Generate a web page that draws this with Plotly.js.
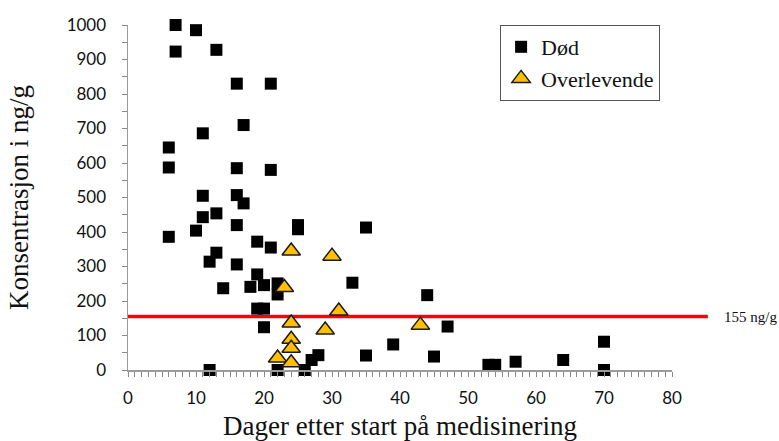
<!DOCTYPE html>
<html>
<head>
<meta charset="utf-8">
<script src="https://cdn.plot.ly/plotly-3.0.1.min.js"></script>
<style>html,body{margin:0;padding:0;background:#fff;}#chart{width:779px;height:441px;}</style>
</head>
<body>
<div id="chart"></div>
<script>
// Død (died) – days after start, concentration ng/g
const dodDays = [7,10,7,13,16,21,17,11,6,6,16,21,11,16,17,13,11,25,25,35,16,10,6,19,21,13,12,16,19,18,20,22,22,14,33,44,19,20,20,47,39,35,45,53,54,57,64,70,70,28,27,26,22,12];
const dodConc = [1000,985,923,928,830,830,710,686,645,587,585,580,505,507,483,454,443,420,408,413,420,404,386,372,355,340,314,306,277,241,246,251,219,237,253,217,178,178,124,126,74,42,39,15,15,24,29,82,0,43,29,0,0,0];
// Overlevende (survived)
const overDays = [24,30,23,31,24,43,29,24,24,22,24];
const overConc = [345,330,239,171,136,130,116,89,63,35,21];
// threshold
const thresholdValue = [155];
const thresholdLabel = ["155 ng/g"];
const xTickVals = [0,10,20,30,40,50,60,70,80];
const yTickVals = [0,100,200,300,400,500,600,700,800,900,1000];

const yRange = [0, 1000];
const serif = "Liberation Serif, Times New Roman, serif";
const sans = "Lato, Open Sans, sans-serif";

const traces = [
  {
    x: dodDays, y: dodConc, type: "scatter", mode: "markers", name: "Død",
    cliponaxis: false,
    marker: {symbol: "square", size: 12, color: "#000000"}
  },
  {
    x: overDays, y: overConc, type: "scatter", mode: "markers", name: "Overlevende",
    cliponaxis: false,
    marker: {symbol: "triangle-up", size: 16, color: "#FFC000", line: {color: "#1a1a1a", width: 1.5}}
  }
];

const layout = {
  width: 779, height: 441,
  margin: {l: 128, r: 107, t: 25, b: 71, pad: 0},
  paper_bgcolor: "#ffffff", plot_bgcolor: "#ffffff",
  showlegend: true,
  legend: {
    x: 0.684, y: 1.0, xanchor: "left", yanchor: "top",
    bordercolor: "#555555", borderwidth: 1, bgcolor: "#ffffff",
    font: {family: serif, size: 22, color: "#111"},
    itemwidth: 30, tracegroupgap: 0
  },
  xaxis: {
    range: [0, 80], autorange: false,
    tickvals: xTickVals, ticktext: xTickVals.map(String),
    showline: true, linecolor: "#9a9a9a", linewidth: 1.5,
    ticks: "outside", ticklen: 5, tickcolor: "#8a8a8a", tickwidth: 1,
    minor: {dtick: 1, ticks: "outside", ticklen: 5, tickcolor: "#8a8a8a", tickwidth: 1, showgrid: false},
    showgrid: false, zeroline: false,
    tickfont: {family: sans, size: 17, color: "#111"},
    ticklabelstandoff: 7,
    title: {text: "Dager etter start på medisinering", font: {family: serif, size: 27, color: "#111"}, standoff: 13},
    automargin: false
  },
  yaxis: {
    range: yRange, autorange: false,
    tickvals: yTickVals, ticktext: yTickVals.map(String),
    showline: true, linecolor: "#9a9a9a", linewidth: 1.5,
    ticks: "outside", ticklen: 5, tickcolor: "#8a8a8a", tickwidth: 1,
    minor: {dtick: 50, ticks: "outside", ticklen: 5, tickcolor: "#8a8a8a", tickwidth: 1, showgrid: false},
    showgrid: false, zeroline: false,
    tickfont: {family: sans, size: 17, color: "#111"},
    ticklabelstandoff: 12,
    title: {text: "Konsentrasjon i ng/g", font: {family: serif, size: 27, color: "#111"}, standoff: 30},
    automargin: false
  },
  shapes: [{
    type: "line", xref: "paper", yref: "paper",
    x0: 0, x1: 1.066,
    y0: (thresholdValue[0] - yRange[0]) / (yRange[1] - yRange[0]),
    y1: (thresholdValue[0] - yRange[0]) / (yRange[1] - yRange[0]),
    line: {color: "#FF0000", width: 3.5}, layer: "below"
  }],
  annotations: [{
    xref: "paper", yref: "y", x: 1.092, y: thresholdValue[0],
    xanchor: "left", yanchor: "middle", showarrow: false,
    text: thresholdLabel[0], font: {family: serif, size: 15, color: "#111"}
  }]
};

Plotly.newPlot("chart", traces, layout, {displayModeBar: false, staticPlot: true});
</script>
</body>
</html>
